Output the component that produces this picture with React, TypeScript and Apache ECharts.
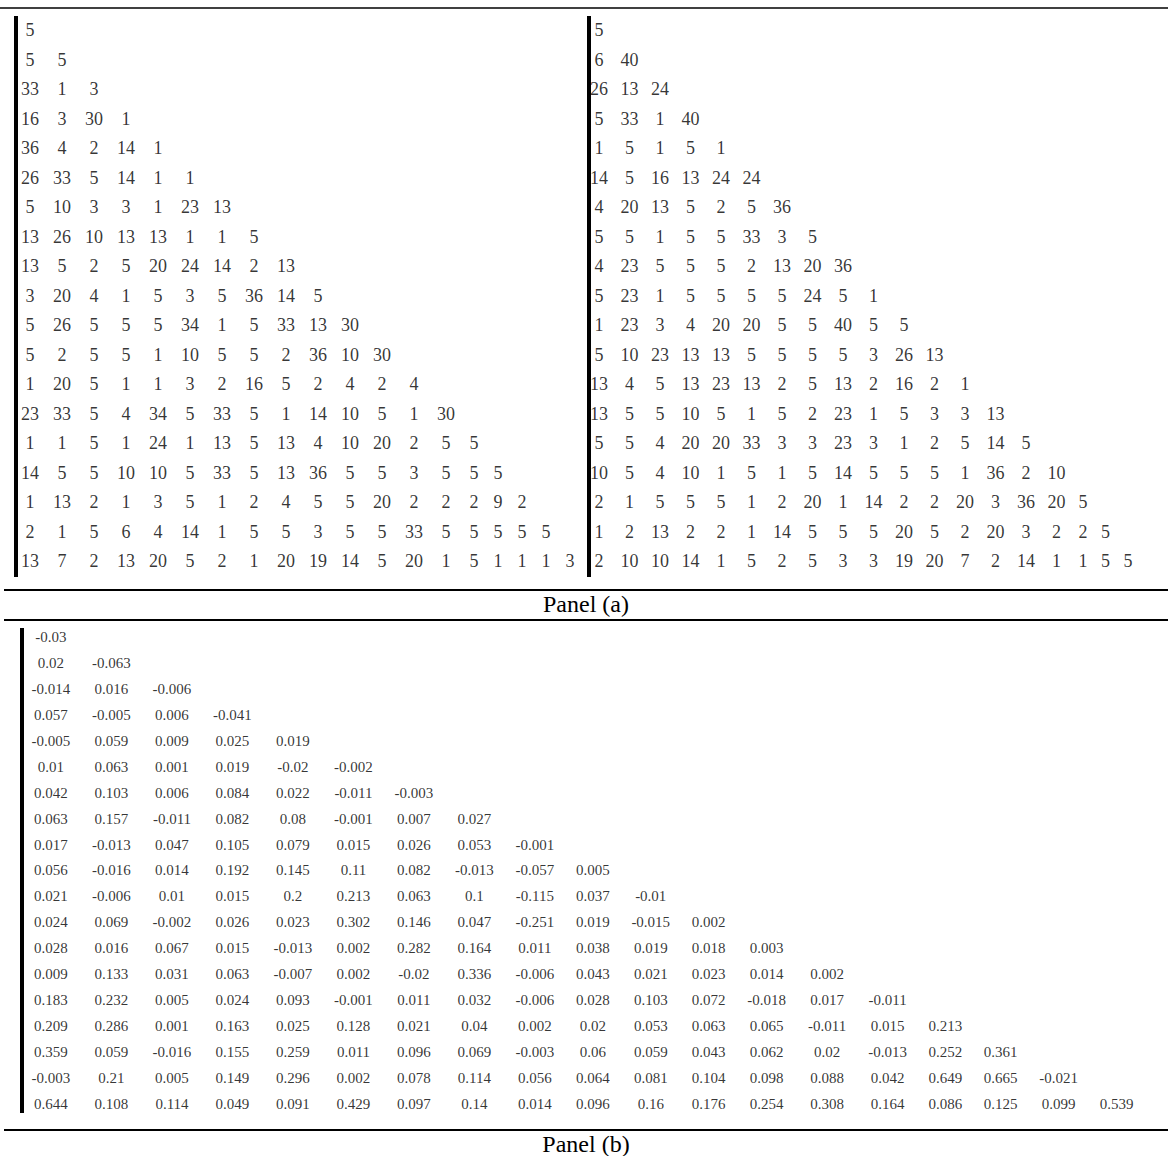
import React, { useEffect, useRef } from "react";
import * as echarts from "echarts";

// Panel (a), left triangle
const leftRows: number[][] = [
  [5],
  [5, 5],
  [33, 1, 3],
  [16, 3, 30, 1],
  [36, 4, 2, 14, 1],
  [26, 33, 5, 14, 1, 1],
  [5, 10, 3, 3, 1, 23, 13],
  [13, 26, 10, 13, 13, 1, 1, 5],
  [13, 5, 2, 5, 20, 24, 14, 2, 13],
  [3, 20, 4, 1, 5, 3, 5, 36, 14, 5],
  [5, 26, 5, 5, 5, 34, 1, 5, 33, 13, 30],
  [5, 2, 5, 5, 1, 10, 5, 5, 2, 36, 10, 30],
  [1, 20, 5, 1, 1, 3, 2, 16, 5, 2, 4, 2, 4],
  [23, 33, 5, 4, 34, 5, 33, 5, 1, 14, 10, 5, 1, 30],
  [1, 1, 5, 1, 24, 1, 13, 5, 13, 4, 10, 20, 2, 5, 5],
  [14, 5, 5, 10, 10, 5, 33, 5, 13, 36, 5, 5, 3, 5, 5, 5],
  [1, 13, 2, 1, 3, 5, 1, 2, 4, 5, 5, 20, 2, 2, 2, 9, 2],
  [2, 1, 5, 6, 4, 14, 1, 5, 5, 3, 5, 5, 33, 5, 5, 5, 5, 5],
  [13, 7, 2, 13, 20, 5, 2, 1, 20, 19, 14, 5, 20, 1, 5, 1, 1, 1, 3],
];

// Panel (a), right triangle
const rightRows: number[][] = [
  [5],
  [6, 40],
  [26, 13, 24],
  [5, 33, 1, 40],
  [1, 5, 1, 5, 1],
  [14, 5, 16, 13, 24, 24],
  [4, 20, 13, 5, 2, 5, 36],
  [5, 5, 1, 5, 5, 33, 3, 5],
  [4, 23, 5, 5, 5, 2, 13, 20, 36],
  [5, 23, 1, 5, 5, 5, 5, 24, 5, 1],
  [1, 23, 3, 4, 20, 20, 5, 5, 40, 5, 5],
  [5, 10, 23, 13, 13, 5, 5, 5, 5, 3, 26, 13],
  [13, 4, 5, 13, 23, 13, 2, 5, 13, 2, 16, 2, 1],
  [13, 5, 5, 10, 5, 1, 5, 2, 23, 1, 5, 3, 3, 13],
  [5, 5, 4, 20, 20, 33, 3, 3, 23, 3, 1, 2, 5, 14, 5],
  [10, 5, 4, 10, 1, 5, 1, 5, 14, 5, 5, 5, 1, 36, 2, 10],
  [2, 1, 5, 5, 5, 1, 2, 20, 1, 14, 2, 2, 20, 3, 36, 20, 5],
  [1, 2, 13, 2, 2, 1, 14, 5, 5, 5, 20, 5, 2, 20, 3, 2, 2, 5],
  [2, 10, 10, 14, 1, 5, 2, 5, 3, 3, 19, 20, 7, 2, 14, 1, 1, 5, 5],
];

// Panel (b)
const corrRows: number[][] = [
  [-0.03],
  [0.02, -0.063],
  [-0.014, 0.016, -0.006],
  [0.057, -0.005, 0.006, -0.041],
  [-0.005, 0.059, 0.009, 0.025, 0.019],
  [0.01, 0.063, 0.001, 0.019, -0.02, -0.002],
  [0.042, 0.103, 0.006, 0.084, 0.022, -0.011, -0.003],
  [0.063, 0.157, -0.011, 0.082, 0.08, -0.001, 0.007, 0.027],
  [0.017, -0.013, 0.047, 0.105, 0.079, 0.015, 0.026, 0.053, -0.001],
  [0.056, -0.016, 0.014, 0.192, 0.145, 0.11, 0.082, -0.013, -0.057, 0.005],
  [0.021, -0.006, 0.01, 0.015, 0.2, 0.213, 0.063, 0.1, -0.115, 0.037, -0.01],
  [0.024, 0.069, -0.002, 0.026, 0.023, 0.302, 0.146, 0.047, -0.251, 0.019, -0.015, 0.002],
  [0.028, 0.016, 0.067, 0.015, -0.013, 0.002, 0.282, 0.164, 0.011, 0.038, 0.019, 0.018, 0.003],
  [0.009, 0.133, 0.031, 0.063, -0.007, 0.002, -0.02, 0.336, -0.006, 0.043, 0.021, 0.023, 0.014, 0.002],
  [0.183, 0.232, 0.005, 0.024, 0.093, -0.001, 0.011, 0.032, -0.006, 0.028, 0.103, 0.072, -0.018, 0.017, -0.011],
  [0.209, 0.286, 0.001, 0.163, 0.025, 0.128, 0.021, 0.04, 0.002, 0.02, 0.053, 0.063, 0.065, -0.011, 0.015, 0.213],
  [0.359, 0.059, -0.016, 0.155, 0.259, 0.011, 0.096, 0.069, -0.003, 0.06, 0.059, 0.043, 0.062, 0.02, -0.013, 0.252, 0.361],
  [-0.003, 0.21, 0.005, 0.149, 0.296, 0.002, 0.078, 0.114, 0.056, 0.064, 0.081, 0.104, 0.098, 0.088, 0.042, 0.649, 0.665, -0.021],
  [0.644, 0.108, 0.114, 0.049, 0.091, 0.429, 0.097, 0.14, 0.014, 0.096, 0.16, 0.176, 0.254, 0.308, 0.164, 0.086, 0.125, 0.099, 0.539],
];

const captions = ["Panel (a)", "Panel (b)"];

const FONT = "'Liberation Serif', 'Times New Roman', serif";

function textEm(s: string): number {
  let w = 0;
  for (const ch of s) w += ch === "." ? 0.25 : ch === "-" ? 0.333 : 0.5;
  return w;
}

// column widths follow the widest entry of each column (auto table layout)
function layoutColumns(rows: number[][], em: number, pad: number) {
  const n = Math.max(...rows.map((r) => r.length));
  const widths: number[] = [];
  for (let c = 0; c < n; c++) {
    let m = 0;
    rows.forEach((r) => {
      if (r.length > c) m = Math.max(m, textEm(String(r[c])) * em);
    });
    widths.push(m + pad);
  }
  let acc = 0;
  const centers = widths.map((w) => {
    const c = acc + w / 2;
    acc += w;
    return c;
  });
  return { centers, total: acc };
}

function toData(rows: number[][], centers: number[]) {
  const out: (number | string)[][] = [];
  rows.forEach((r, i) => r.forEach((v, c) => out.push([centers[c], i, String(v)])));
  return out;
}

export default function App() {
  const ref = useRef<HTMLDivElement>(null);
  useEffect(() => {
    if (!ref.current) return;
    const chart = echarts.init(ref.current, null, { renderer: "svg" });

    const L = layoutColumns(leftRows, 16, 16);
    const R = layoutColumns(rightRows, 16, 14.5);
    const B = layoutColumns(corrRows, 15.6, 20.2);

    const nRows = leftRows.length;
    const rowA = 29.5;
    const rowB = 25.94;
    const topA = 30 - rowA / 2;
    const topB = 637 - rowB / 2;

    const grids = [
      { left: 14, top: topA, width: L.total, height: rowA * nRows },
      { left: 583.75, top: topA, width: R.total, height: rowA * nRows },
      { left: 20.75, top: topB, width: B.total, height: rowB * nRows },
    ];
    const totals = [L.total, R.total, B.total];

    const mkSeries = (data: any[], idx: number, size: number) => ({
      type: "scatter",
      xAxisIndex: idx,
      yAxisIndex: idx,
      data,
      symbolSize: 1,
      itemStyle: { color: "rgba(0,0,0,0)" },
      silent: true,
      label: {
        show: true,
        position: "inside",
        formatter: (p: any) => p.value[2],
        color: "#000",
        fontSize: size,
        fontFamily: FONT,
      },
    });

    chart.setOption({
      animation: false,
      backgroundColor: "#fff",
      grid: grids.map((g) => ({ ...g, containLabel: false })),
      xAxis: totals.map((t, i) => ({
        type: "value",
        gridIndex: i,
        min: 0,
        max: t,
        show: false,
      })),
      yAxis: totals.map((_, i) => ({
        type: "value",
        gridIndex: i,
        min: -0.5,
        max: nRows - 0.5,
        inverse: true,
        show: false,
      })),
      series: [
        mkSeries(toData(leftRows, L.centers), 0, 18),
        mkSeries(toData(rightRows, R.centers), 1, 18),
        mkSeries(toData(corrRows, B.centers), 2, 15),
      ],
      graphic: [
        { type: "line", shape: { x1: 0, y1: 8, x2: 1168, y2: 8 }, style: { stroke: "#000", lineWidth: 1.5 } },
        { type: "line", shape: { x1: 4, y1: 590, x2: 1168, y2: 590 }, style: { stroke: "#000", lineWidth: 2 } },
        { type: "line", shape: { x1: 4, y1: 620, x2: 1168, y2: 620 }, style: { stroke: "#000", lineWidth: 2 } },
        { type: "line", shape: { x1: 4, y1: 1130, x2: 1168, y2: 1130 }, style: { stroke: "#000", lineWidth: 2 } },
        { type: "rect", shape: { x: 14, y: 16, width: 4, height: 561 }, style: { fill: "#000" } },
        { type: "rect", shape: { x: 587, y: 16, width: 4, height: 561 }, style: { fill: "#000" } },
        { type: "rect", shape: { x: 20, y: 628, width: 4, height: 485 }, style: { fill: "#000" } },
        {
          type: "text",
          x: 586,
          y: 604,
          style: { text: captions[0], fill: "#000", fontSize: 24, fontFamily: FONT, align: "center", verticalAlign: "middle" },
        },
        {
          type: "text",
          x: 586,
          y: 1144,
          style: { text: captions[1], fill: "#000", fontSize: 24, fontFamily: FONT, align: "center", verticalAlign: "middle" },
        },
      ],
    });
    return () => chart.dispose();
  }, []);

  return (
    <div
      ref={ref}
      style={{ position: "absolute", left: 0, top: 0, width: 1168, height: 1156, background: "#fff" }}
    />
  );
}
